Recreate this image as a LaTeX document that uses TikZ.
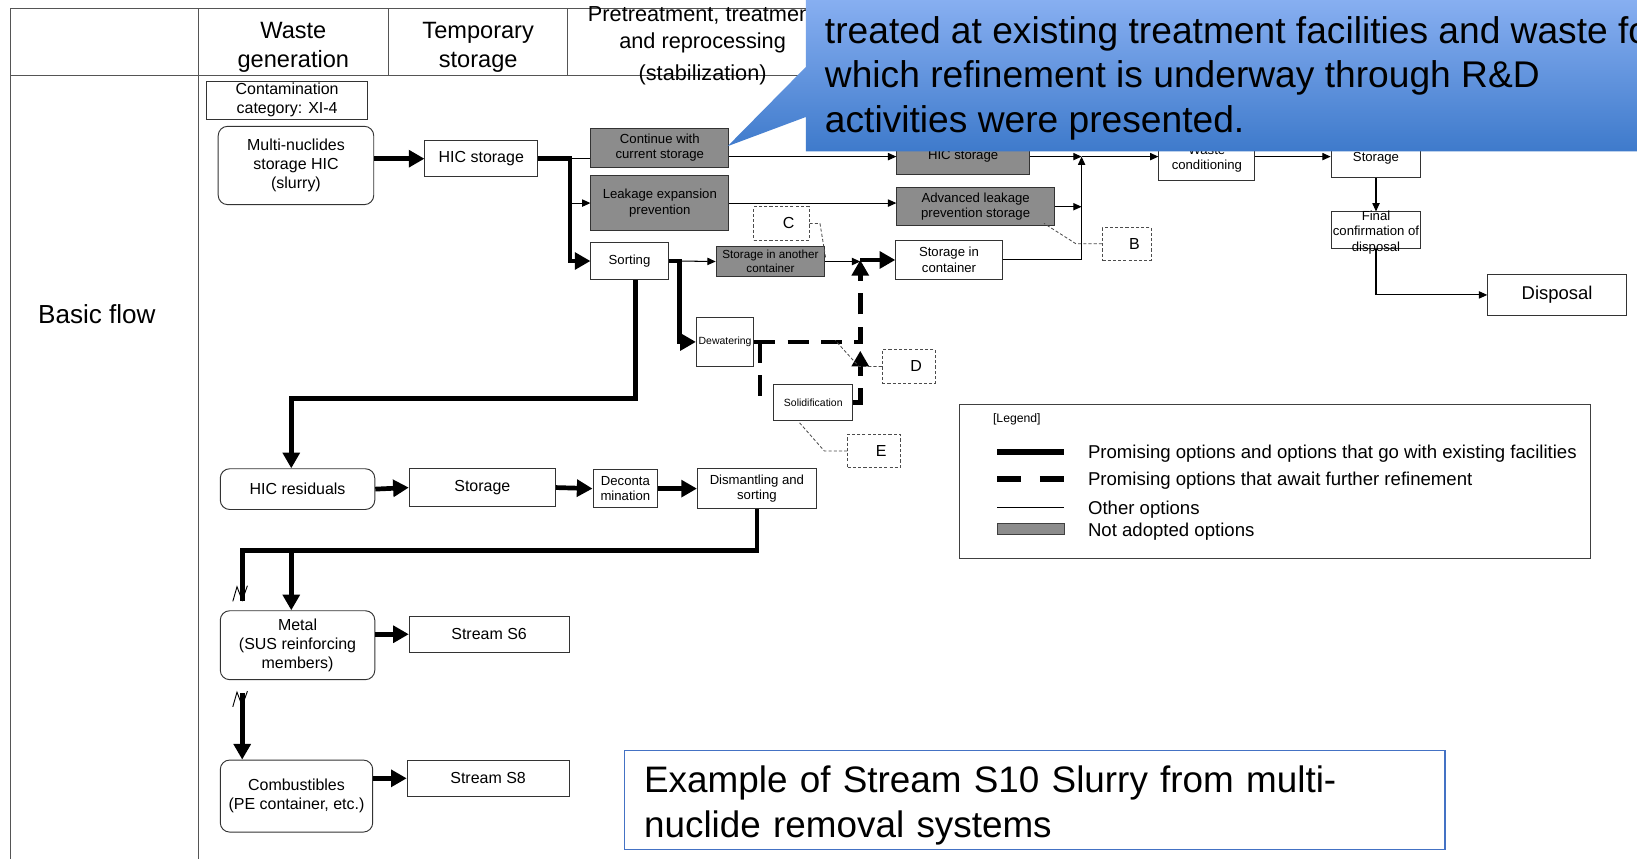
\documentclass[tikz,border=0pt]{standalone}
\usepackage{fontspec}
\setmainfont{Liberation Sans}
\usepackage{tikz}
\usetikzlibrary{arrows.meta}
\definecolor{notadopted}{RGB}{140,140,140}
\definecolor{rulegray}{RGB}{85,85,85}
\definecolor{calloutlight}{RGB}{145,182,246}
\definecolor{calloutdark}{RGB}{62,122,203}
\definecolor{titleblue}{RGB}{68,114,196}
\newcommand{\boxfont}{\fontsize{12.6}{15}\selectfont}
\newcommand{\bigboxfont}{\fontsize{15.3}{18}\selectfont}
\newcommand{\tinyboxfont}{\fontsize{10}{12}\selectfont}
\newcommand{\breakmark}[1]{\draw[line width=0.9pt] (#1) ++(-7,7) -- ++(4,-14) -- ++(5,13) -- ++(5,-14);}
\tikzset{procbox/.style={draw=black!80, fill=white, line width=0.9pt, inner sep=0pt, align=center, font=\boxfont},
graybox/.style={procbox, fill=notadopted},
roundbox/.style={procbox, rounded corners=9pt, font=\bigboxfont},
letterbox/.style={draw=black!70, dash pattern=on 3pt off 2pt, line width=0.8pt, inner sep=0pt, minimum width=51pt, minimum height=32pt, font=\bigboxfont},
pointer/.style={draw=black!70, line width=0.8pt, dash pattern=on 3pt off 2pt},
thinarrow/.style={line width=1pt, -{Triangle[length=8pt,width=7pt]}},
flow/.style={line width=4.5pt, -{Triangle[length=15pt,width=16pt]}},
flowline/.style={line width=4.5pt},
dashflow/.style={flow, dash pattern=on 20pt off 12pt},
legendtxt/.style={anchor=west, inner sep=0pt, font=\fontsize{17.8}{21}\selectfont}}

\begin{document}
\begin{tikzpicture}[x=1pt, y=-1pt]
\useasboundingbox (0,0) rectangle (1568,823);
\fill[white] (0,0) rectangle (1568,823);

% table frame
\draw[rulegray, line width=1pt] (10,8) -- (1568,8);
\draw[rulegray, line width=1pt] (10,72) -- (1568,72);
\draw[rulegray, line width=1pt] (10,8) -- (10,823);
\draw[rulegray, line width=1pt] (190,8) -- (190,823);
\draw[rulegray, line width=1pt] (372,8) -- (372,72);
\draw[rulegray, line width=1pt] (544,8) -- (544,72);

\node[font=\fontsize{22.6}{28}\selectfont, align=center] (hgen) at (281,45) {Waste\\generation};
\node[font=\fontsize{22.6}{28}\selectfont, align=center] (htemp) at (458,45) {Temporary\\storage};
\node[font=\fontsize{20.8}{25}\selectfont, align=center] (htreat) at (673,44) {Pretreatment, treatment\\and reprocessing\\[6pt](stabilization)};
\node[font=\fontsize{25}{30}\selectfont, anchor=west] (hbasic) at (33,301) {Basic flow};

% slurry branch
\node[procbox, font=\bigboxfont, minimum width=154pt, minimum height=36pt] (contam) at (275,96) {Contamination\\category: XI-4};
\node[roundbox, minimum width=149pt, minimum height=75pt] (multi) at (283.5,158.5) {Multi-nuclides\\storage HIC\\(slurry)};
\node[procbox, font=\bigboxfont, minimum width=108pt, minimum height=34pt] (hicst) at (461,152) {HIC storage};
\node[graybox, minimum width=132pt, minimum height=37pt] (cont) at (632,141.5) {Continue with\\current storage};
\node[graybox, minimum width=132pt, minimum height=53pt] (leak) at (632,194.5) {Leakage expansion\\prevention};
\node[procbox, minimum width=74pt, minimum height=36pt] (sorting) at (603,250) {Sorting};
\node[graybox, font=\fontsize{11.2}{13}\selectfont, minimum width=104pt, minimum height=29pt] (another) at (738,250.5) {Storage in another\\container};
\node[procbox, minimum width=102pt, minimum height=38pt] (incont) at (909,249) {Storage in\\container};
\node[graybox, minimum width=127pt, minimum height=34pt] (hicgray) at (922.5,150) {HIC storage};
\node[graybox, minimum width=151pt, minimum height=36pt] (advleak) at (934.5,198) {Advanced leakage\\prevention storage};
\node[procbox, minimum width=92pt, minimum height=42pt] (wastecond) at (1156,152) {Waste\\conditioning};
\node[procbox, minimum width=86pt, minimum height=36pt] (store) at (1318,152) {Storage};
\node[procbox, minimum width=86pt, minimum height=35pt, label={[font=\boxfont, align=center, yshift=-2pt]center:Final\\confirmation of\\disposal}] (final) at (1318,220.5) {};
\node[procbox, font=\fontsize{17.7}{21}\selectfont, minimum width=133pt, minimum height=39pt] (disposal) at (1491.5,282.5) {Disposal};
\node[procbox, font=\tinyboxfont, minimum width=55pt, minimum height=47pt] (dewater) at (694.5,327.5) {Dewatering};
\node[procbox, font=\tinyboxfont, minimum width=76pt, minimum height=35pt] (solid) at (779,385.5) {Solidification};

\node[letterbox, minimum width=53pt] (cmark) at (748.5,214) {\hspace{14pt}C};
\node[letterbox, minimum width=47pt, minimum height=31pt] (bmark) at (1079.5,233.5) {\hspace{14pt}B};
\node[letterbox] (dmark) at (870.5,351) {\hspace{14pt}D};
\node[letterbox, minimum width=50pt] (emark) at (837,432) {\hspace{14pt}E};

% residual branch
\node[roundbox, minimum width=148pt, minimum height=39pt] (resid) at (285,468.5) {HIC residuals};
\node[procbox, font=\bigboxfont, minimum width=140pt, minimum height=36pt] (storage) at (462,467) {Storage};
\node[procbox, minimum width=62pt, minimum height=36pt] (decon) at (599,468) {Deconta\\mination};
\node[procbox, minimum width=114pt, minimum height=38pt] (dismant) at (725,468) {Dismantling and\\sorting};
\node[roundbox, minimum width=148pt, minimum height=66pt] (metal) at (285,618) {Metal\\(SUS reinforcing\\members)};
\node[procbox, font=\bigboxfont, minimum width=153pt, minimum height=35pt] (streamsix) at (468.5,607.5) {Stream S6};
\node[roundbox, minimum width=146pt, minimum height=69pt] (combust) at (284,762.5) {Combustibles\\(PE container, etc.)};
\node[procbox, font=\bigboxfont, minimum width=155pt, minimum height=35pt] (streameight) at (467.5,745.5) {Stream S8};

\draw[flow] (multi.east |- hicst.west) -- (hicst.west);
\coordinate (split) at (546,152);
\draw[flow] (hicst.east) -- (split) |- (sorting.west);
\draw[line width=1pt] (split) -- (split -| cont.west);
\draw[thinarrow] (split |- leak.west) -- (leak.west);
\draw[thinarrow] (cont.east |- hicgray.west) -- (hicgray.west);
\draw[thinarrow] (leak.east) -- (leak.east -| advleak.west);
\coordinate (join) at (1036,150);
\draw[thinarrow] (hicgray.east) -- (join);
\draw[thinarrow] (advleak.east) -- (advleak.east -| join);
\draw[thinarrow] (incont.east) -| (join);
\draw[thinarrow] (join) -- (join -| wastecond.west);
\draw[thinarrow] (wastecond.east |- join) -- (join -| store.west);
\draw[thinarrow] (store.south) -- (final.north);
\draw[thinarrow] (final.south) |- (disposal.west);

\coordinate (drop) at (279,382);
\draw[flow] ([xshift=6pt]sorting.south) |- (drop) -- (drop |- resid.north);
\coordinate (fork) at (651,250);
\draw[flow] (sorting.east) -- (fork) |- (dewater.west);
\draw[thinarrow] (fork) -- (another.west);
\coordinate (merge) at (824,249);
\draw[thinarrow] (another.east) -- (another.east -| merge);
\draw[flow] (merge) -- (merge -| incont.west);
\draw[dashflow] (dewater.east) -| (merge);
\coordinate (dwfoot) at (728,386);
\draw[flowline, dash pattern=on 20pt off 12pt] (dwfoot |- dewater.east) -- (dwfoot);
\coordinate (solidtop) at (824,336);
\draw[dashflow] (solid.east) -| (solidtop);

\coordinate (cpt) at (791,248);
\draw[pointer] (cmark.east) -- ++(10,0) -- (cpt);
\coordinate (bpt) at (1000,214);
\draw[pointer] (bmark.west) -- ++(-25,0) -- (bpt);
\coordinate (dpt) at (800,326);
\draw[pointer] (dmark.west) -- ++(-22,0) -- (dpt);
\coordinate (ept) at (765,404);
\draw[pointer] (emark.west) -- ++(-22,0) -- (ept);

\draw[flow] (resid.east) -- (storage.west);
\draw[flow] (storage.east) -- (decon.west);
\draw[flow] (decon.east) -- (dismant.west);
\coordinate (split2) at (279,527);
\coordinate (brkone) at (232,576);
\draw[flowline] (dismant.south) |- (brkone |- split2) -- (brkone);
\draw[flow] (split2) -- (split2 |- metal.north);
\breakmark{230,569}
\coordinate (brktwo) at (232,664);
\draw[flow] (brktwo) -- (brktwo |- combust.north);
\breakmark{230,670}
\draw[flow] (metal.east |- streamsix.west) -- (streamsix.west);
\draw[flow] (combust.east |- streameight.west) -- (streameight.west);

% legend
\node[draw=black!75, line width=1pt, minimum width=604pt, minimum height=148pt, inner sep=0pt] (legend) at (1221,461) {};
\node[anchor=west, inner sep=0pt, font=\fontsize{11.7}{14}\selectfont] (legendtitle) at (951,402) {[Legend]};
\draw[line width=6pt] (955,433) -- (1019,433);
\node[legendtxt] (lgone) at (1042,435) {Promising options and options that go with existing facilities};
\draw[line width=6pt, dash pattern=on 23pt off 18pt] (955,459) -- (1019,459);
\node[legendtxt] (lgtwo) at (1042,460) {Promising options that await further refinement};
\draw[line width=1pt] (955,486) -- (1019,486);
\node[legendtxt] (lgthree) at (1042,488) {Other options};
\draw[fill=notadopted, draw=black!75] (955,501) rectangle (1019,512);
\node[legendtxt] (lgfour) at (1042,509) {Not adopted options};

\node[draw=titleblue, line width=1.2pt, fill=white, minimum width=786pt, minimum height=95pt, inner sep=0pt, label={[text width=748pt, align=left, font=\fontsize{35.3}{44}\selectfont, yshift=-5pt]center:Example of Stream S10 Slurry from multi-\\nuclide removal systems}] (title) at (991,766.5) {};

% callout
\shade[top color=calloutlight, bottom color=calloutdark] (772,-20) -- (1600,-20) -- (1600,145) -- (772,145) -- (772,112) -- (697,140) -- (772,64) -- cycle;
\node[anchor=west, align=left, inner sep=0pt, font=\fontsize{35.6}{43}\selectfont] (callout) at (790,75) {treated at existing treatment facilities and waste for\\which refinement is underway through R\&D\\activities were presented.};

\end{tikzpicture}
\end{document}
